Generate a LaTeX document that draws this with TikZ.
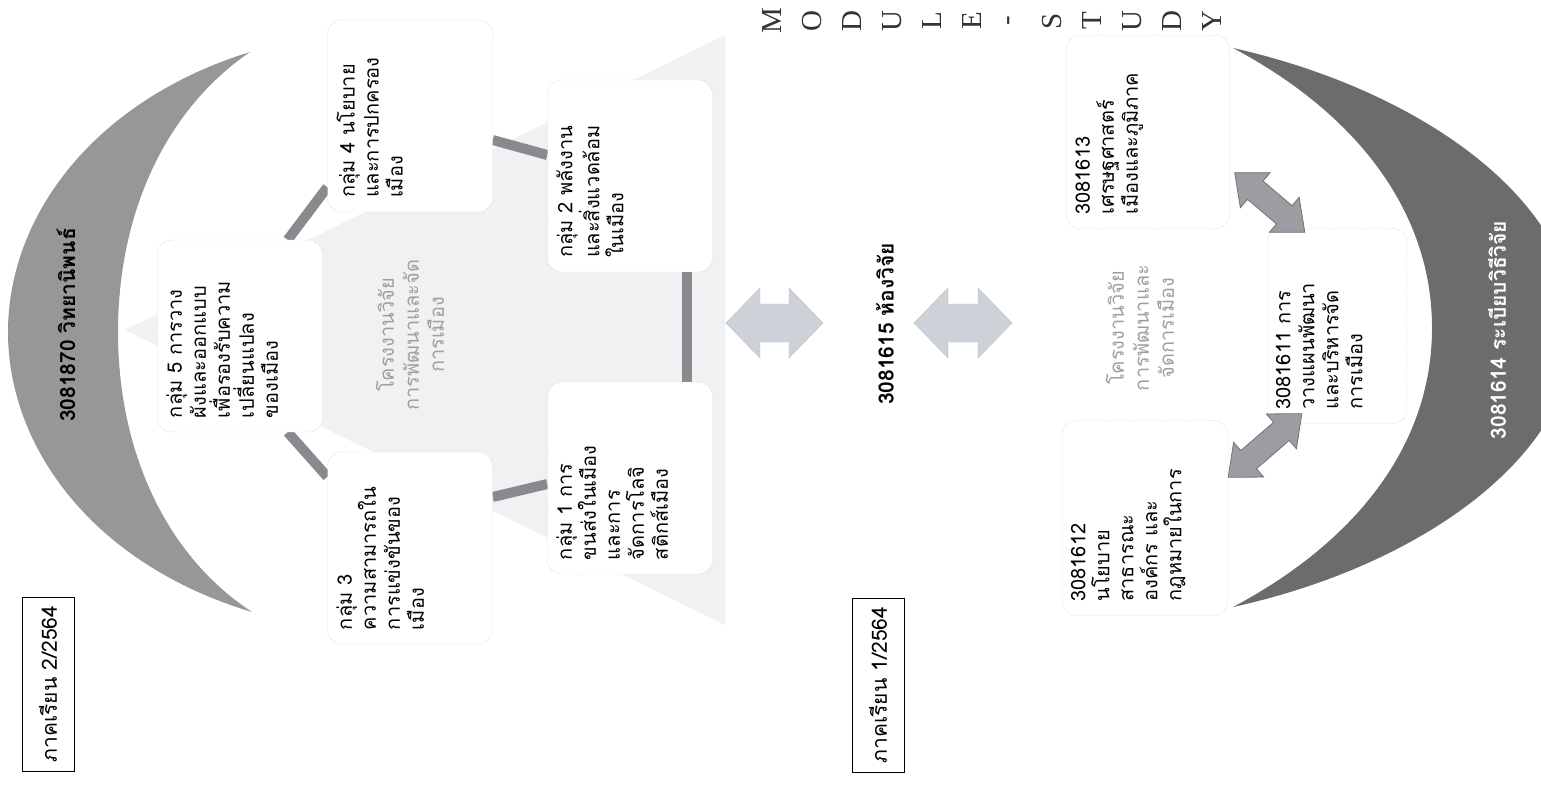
\documentclass[tikz,border=0pt]{standalone}
\usepackage{fontspec}
\setmainfont{Liberation Serif}
\newfontfamily\thai[Script=Thai]{Loma}
\usetikzlibrary{calc,backgrounds}

\definecolor{moonleft}{HTML}{979797}
\definecolor{moonright}{HTML}{6C6C6C}
\definecolor{paletri}{HTML}{EFF1F3}
\definecolor{linkgray}{HTML}{8A8A8E}
\definecolor{bigarrgray}{HTML}{CDD1D8}
\definecolor{smallarrgray}{HTML}{9C9CA3}

% text block read from bottom to top
\newcommand\vtext[3]{\rotatebox{90}{\parbox[c][#2][t]{#1}{\vspace{9pt}\raggedright\leftskip=14pt #3}}}
% fat double arrow: style, from, to, head length, head half width, shaft half width
\newcommand\fatarrow[6]{%
  \coordinate (fa) at ($(#2)!#4!(#3)$);
  \coordinate (fb) at ($(#3)!#4!(#2)$);
  \draw[#1] (#2) -- ($(fa)!#5!90:(#3)$) -- ($(fa)!#6!90:(#3)$) -- ($(fb)!#6!-90:(#2)$)
    -- ($(fb)!#5!-90:(#2)$) -- (#3) -- ($(fb)!#5!90:(#2)$) -- ($(fb)!#6!90:(#2)$)
    -- ($(fa)!#6!-90:(#3)$) -- ($(fa)!#5!-90:(#3)$) -- cycle;}

\begin{document}
\begin{tikzpicture}[x=1pt,y=-1pt,
    grp/.style={draw=gray!60, densely dotted, fill=white, rounded corners=14pt, inner sep=0pt,
      font=\thai\fontsize{20}{24}\selectfont},
    sem/.style={draw, thin, fill=white, inner sep=0pt, minimum width=52pt, minimum height=174pt,
      font=\thai\fontsize{21}{22}\selectfont},
    ttl/.style={inner sep=0pt, font=\thai\bfseries\fontsize{21}{24}\selectfont},
    pale/.style={inner sep=0pt, text=gray!75, font=\thai\fontsize{20}{25}\selectfont},
    link/.style={draw=linkgray, line width=10pt},
    bigarr/.style={fill=bigarrgray, draw=bigarrgray!80!gray, thin},
    smallarr/.style={fill=smallarrgray, draw=gray!90!black, thick}]
\useasboundingbox (0,0) rectangle (1541,786);

\def\leftmoon{(250,52) .. controls (95,100) and (8,215) .. (8,332) .. controls (8,449) and (95,565) .. (252,612)
  .. controls (165,555) and (118,450) .. (118,332) .. controls (118,214) and (165,110) .. cycle}
\def\rightmoon{(1233,48) .. controls (1420,90) and (1575,200) .. (1575,328) .. controls (1575,456) and (1420,566) .. (1233,607)
  .. controls (1350,545) and (1432,450) .. (1432,328) .. controls (1432,206) and (1350,110) .. cycle}
\begin{scope}[on background layer]
\fill[moonleft] \leftmoon;
\fill[moonright] \rightmoon;
\fill[paletri] (125,330) -- (725,35) -- (725,625) -- cycle;
\end{scope}

\node[sem] (sem2) at (48,684) {\rotatebox{90}{ภาคเรียน 2/2564}};
\node[sem] (sem1) at (878,685) {\rotatebox{90}{ภาคเรียน 1/2564}};
\node[ttl] (thesis) at (66,325) {\rotatebox{90}{3081870 วิทยานิพนธ์}};
\node[ttl] (lab) at (885,324) {\rotatebox{90}{3081615 ห้องวิจัย}};
\node[ttl, text=white] (method) at (1497,330) {\rotatebox{90}{3081614 ระเบียบวิธีวิจัย}};

\node[grp] (g5) at (240,336) {\vtext{192pt}{165pt}{กลุ่ม 5 การวาง\\ผังและออกแบบ\\เพื่อรองรับความ\\เปลี่ยนแปลง\\ของเมือง}};
\node[grp] (g4) at (410,116) {\vtext{192pt}{165pt}{กลุ่ม 4 นโยบาย\\และการปกครอง\\เมือง}};
\node[grp] (g3) at (410,548) {\vtext{192pt}{165pt}{กลุ่ม 3\\ความสามารถใน\\การแข่งขันของ\\เมือง}};
\node[grp] (g2) at (630,176) {\vtext{192pt}{165pt}{กลุ่ม 2 พลังงาน\\และสิ่งแวดล้อม\\ในเมือง}};
\node[grp] (g1) at (630,478) {\vtext{192pt}{165pt}{กลุ่ม 1 การ\\ขนส่งในเมือง\\และการ\\จัดการโลจิ\\สติกส์เมือง}};
\node[pale] (projL) at (410,335) {\rotatebox{90}{\parbox{160pt}{\centering โครงงานวิจัย\\การพัฒนาและจัด\\การเมือง}}};

\node[grp] (c13) at (1148,132) {\vtext{193pt}{163pt}{3081613\\เศรษฐศาสตร์\\เมืองและภูมิภาค}};
\node[grp] (c12) at (1145,518) {\vtext{195pt}{166pt}{3081612\\นโยบาย\\สาธารณะ\\องค์กร และ\\กฎหมายในการ}};
\node[grp] (c11) at (1337,326) {\vtext{195pt}{140pt}{3081611 การ\\วางแผนพัฒนา\\และบริหารจัด\\การเมือง}};
\node[pale] (projR) at (1140,328) {\rotatebox{90}{\parbox{160pt}{\centering โครงงานวิจัย\\การพัฒนาและ\\จัดการเมือง}}};

\begin{scope}[on background layer]
\draw[link] ([xshift=-35pt]g5.north east) -- ([yshift=25pt]g4.south west);
\draw[link] ([xshift=-35pt]g5.south east) -- ([yshift=-25pt]g3.north west);
\draw[link] ([yshift=-24pt]g4.east) -- ([yshift=21pt]g2.west);
\draw[link] ([yshift=51pt]g3.east) -- ([yshift=-6pt]g1.west);
\draw[link] ([xshift=-26pt]g2.south east) -- ([xshift=-26pt]g1.north east);
\end{scope}

\coordinate (a1w) at (726,323);
\coordinate (a1e) at (823,323);
\coordinate (a2w) at (914,323);
\coordinate (a2e) at (1012,323);
\fatarrow{bigarr}{a1w}{a1e}{34pt}{35pt}{19pt}
\fatarrow{bigarr}{a2w}{a2e}{34pt}{35pt}{19pt}

\coordinate (r1a) at ([xshift=5pt,yshift=56pt]c13.south east);
\coordinate (r1b) at ([xshift=38pt,yshift=-4pt]c11.north west);
\coordinate (r2a) at ([yshift=-57pt]c12.north east);
\coordinate (r2b) at ([xshift=35pt,yshift=10pt]c11.south west);
\fatarrow{smallarr}{r1a}{r1b}{27pt}{23pt}{12pt}
\fatarrow{smallarr}{r2a}{r2b}{27pt}{23pt}{12pt}

\foreach \ch [count=\i] in {M,O,D,U,L,E,-,S,T,U,D,Y}
  \node[inner sep=0pt, text=black!80, font=\fontsize{29}{29}\selectfont] (ms\i) at (732+40*\i,21) {\rotatebox{90}{\ch}};
\end{tikzpicture}
\end{document}
